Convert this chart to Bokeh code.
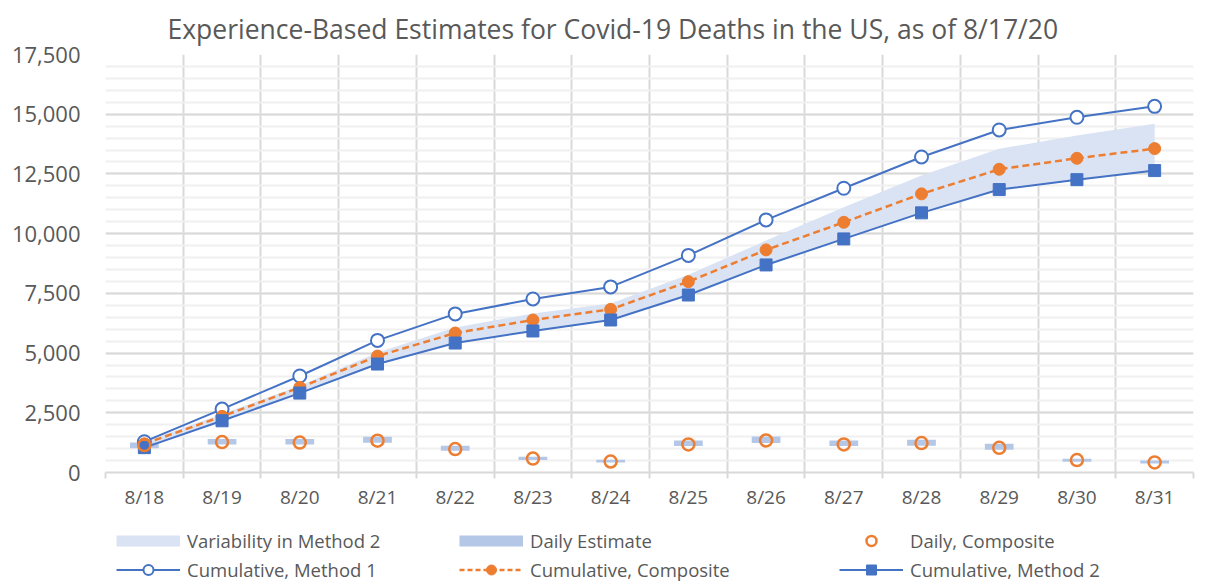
from bokeh.plotting import figure
from bokeh.layouts import column
from bokeh.models import (FixedTicker, SingleIntervalTicker, NumeralTickFormatter,
                          Legend, LegendItem, Range1d)
from bokeh.embed import file_html
from bokeh.resources import INLINE

dates = ["8/18", "8/19", "8/20", "8/21", "8/22", "8/23", "8/24",
         "8/25", "8/26", "8/27", "8/28", "8/29", "8/30", "8/31"]
cum_method1 = [1290, 2655, 4040, 5530, 6640, 7265, 7770, 9090, 10575, 11900, 13210, 14340, 14870, 15330]
cum_composite = [1200, 2350, 3560, 4875, 5840, 6385, 6830, 7990, 9320, 10475, 11665, 12695, 13155, 13560]
cum_method2 = [1040, 2165, 3325, 4540, 5420, 5925, 6385, 7430, 8690, 9780, 10870, 11845, 12260, 12640]
variability_upper = [1290, 2450, 3630, 5020, 6075, 6660, 7080, 8280, 9710, 11100, 12430, 13550, 14110, 14600]
daily_low = [1020, 1170, 1170, 1245, 910, 520, 420, 1105, 1230, 1105, 1120, 950, 450, 380]
daily_high = [1260, 1400, 1400, 1495, 1120, 660, 530, 1340, 1510, 1340, 1370, 1200, 575, 505]
daily_composite = [1150, 1275, 1255, 1330, 980, 585, 460, 1175, 1340, 1175, 1230, 1035, 520, 420]

x = list(range(len(dates)))

BLUE = "#4472c4"
ORANGE = "#ed7d31"
BAND = "#dae3f3"
BAR = "#b4c7e7"
TXT = "#595959"
FONT = "Open Sans"

p = figure(width=1216, height=517, output_backend="svg", toolbar_location=None,
           x_range=Range1d(-0.5, len(dates) - 0.5), y_range=Range1d(0, 17500),
           min_border_left=105, min_border_right=23, min_border_top=54, min_border_bottom=45)
p.outline_line_color = None

# title
p.title.text = "Experience-Based Estimates for Covid-19 Deaths in the US, as of 8/17/20"
p.title.align = "left"
p.title.offset = 62
p.title.standoff = 15
p.title.text_font = FONT
p.title.text_font_size = "26.5px"
p.title.text_font_style = "normal"
p.title.text_color = TXT

# axes
p.xaxis.ticker = FixedTicker(ticks=x, minor_ticks=[i - 0.5 for i in range(len(dates) + 1)])
p.xaxis.major_label_overrides = {i: d for i, d in enumerate(dates)}
p.xaxis.major_tick_line_color = None
p.xaxis.minor_tick_out = 6
p.xaxis.minor_tick_in = 0
p.xaxis.minor_tick_line_color = "#d9d9d9"
p.xaxis.minor_tick_line_width = 2
p.xaxis.axis_line_color = "#d9d9d9"
p.xaxis.axis_line_width = 2
p.xaxis.major_label_text_font = FONT
p.xaxis.major_label_text_font_size = "19px"
p.xaxis.major_label_text_color = TXT
p.xaxis.major_label_standoff = 5

p.yaxis.ticker = SingleIntervalTicker(interval=2500, num_minor_ticks=5)
p.yaxis.formatter = NumeralTickFormatter(format="0,0")
p.yaxis.axis_line_color = None
p.yaxis.major_tick_line_color = None
p.yaxis.minor_tick_line_color = None
p.yaxis.major_label_text_font = FONT
p.yaxis.major_label_text_font_size = "22px"
p.yaxis.major_label_text_color = TXT
p.yaxis.major_label_standoff = 19

p.xgrid.grid_line_color = None
p.xgrid.minor_grid_line_color = "#d9d9d9"
p.xgrid.minor_grid_line_width = 2
p.ygrid.grid_line_color = "#d9d9d9"
p.ygrid.grid_line_width = 2
p.ygrid.minor_grid_line_color = "#f0f0f0"
p.ygrid.minor_grid_line_width = 2

# series
p.varea(x=x, y1=cum_method2, y2=variability_upper, fill_color=BAND)
p.vbar(x=x, width=0.37, bottom=daily_low, top=daily_high, fill_color=BAR, line_color=None)
p.line(x, cum_method1, line_color=BLUE, line_width=2)
p.scatter(x, cum_method1, marker="circle", size=13, fill_color="white", line_color=BLUE, line_width=2)
p.line(x, cum_composite, line_color=ORANGE, line_width=2.5, line_dash="7 4")
p.scatter(x, cum_composite, marker="circle", size=12, fill_color=ORANGE, line_color=ORANGE)
p.line(x, cum_method2, line_color=BLUE, line_width=2)
p.scatter(x, cum_method2, marker="square", size=12, fill_color=BLUE, line_color=BLUE)
p.scatter(x, daily_composite, marker="circle", size=12, fill_color=None, line_color=ORANGE, line_width=2.5)

# legend strip: the same series again, lying outside this strip's ranges, so that only the legend shows
lf = figure(width=1216, height=70, output_backend="svg", toolbar_location=None,
            x_axis_type=None, y_axis_type=None,
            x_range=Range1d(100, 101), y_range=Range1d(100000, 100001),
            min_border_left=105, min_border_right=23, min_border_top=0, min_border_bottom=0)
lf.outline_line_color = None
lf.background_fill_color = None
lf.border_fill_color = None
l_band = lf.line(x, variability_upper, line_color=BAND, line_width=11)
l_bar = lf.line(x, daily_high, line_color=BAR, line_width=11)
l_dc = lf.scatter(x, daily_composite, marker="circle", fill_color=None, line_color=ORANGE, line_width=2.5)
l_m1 = lf.line(x, cum_method1, line_color=BLUE, line_width=2)
l_m1p = lf.scatter(x, cum_method1, marker="circle", fill_color="white", line_color=BLUE, line_width=2)
l_c = lf.line(x, cum_composite, line_color=ORANGE, line_width=2.5, line_dash="5 3")
l_cp = lf.scatter(x, cum_composite, marker="circle", fill_color=ORANGE, line_color=ORANGE)
l_m2 = lf.line(x, cum_method2, line_color=BLUE, line_width=2)
l_m2p = lf.scatter(x, cum_method2, marker="square", fill_color=BLUE, line_color=BLUE)

columns = [
    (11, [("Variability in Method 2", [l_band]), ("Cumulative, Method 1", [l_m1, l_m1p])]),
    (354, [("Daily Estimate", [l_bar]), ("Cumulative, Composite", [l_c, l_cp])]),
    (734, [("Daily, Composite", [l_dc]), ("Cumulative, Method 2", [l_m2, l_m2p])]),
]
for xloc, items in columns:
    lg = Legend(items=[LegendItem(label=l, renderers=r) for l, r in items],
                orientation="vertical", location=(xloc, 5),
                glyph_width=64, glyph_height=25, label_standoff=7, label_height=23,
                label_text_font=FONT, label_text_font_size="18.5px", label_text_color=TXT,
                spacing=4, padding=0, margin=0, border_line_color=None,
                background_fill_alpha=0)
    lf.add_layout(lg)

open("out.html", "w").write(file_html(column(p, lf), INLINE))
